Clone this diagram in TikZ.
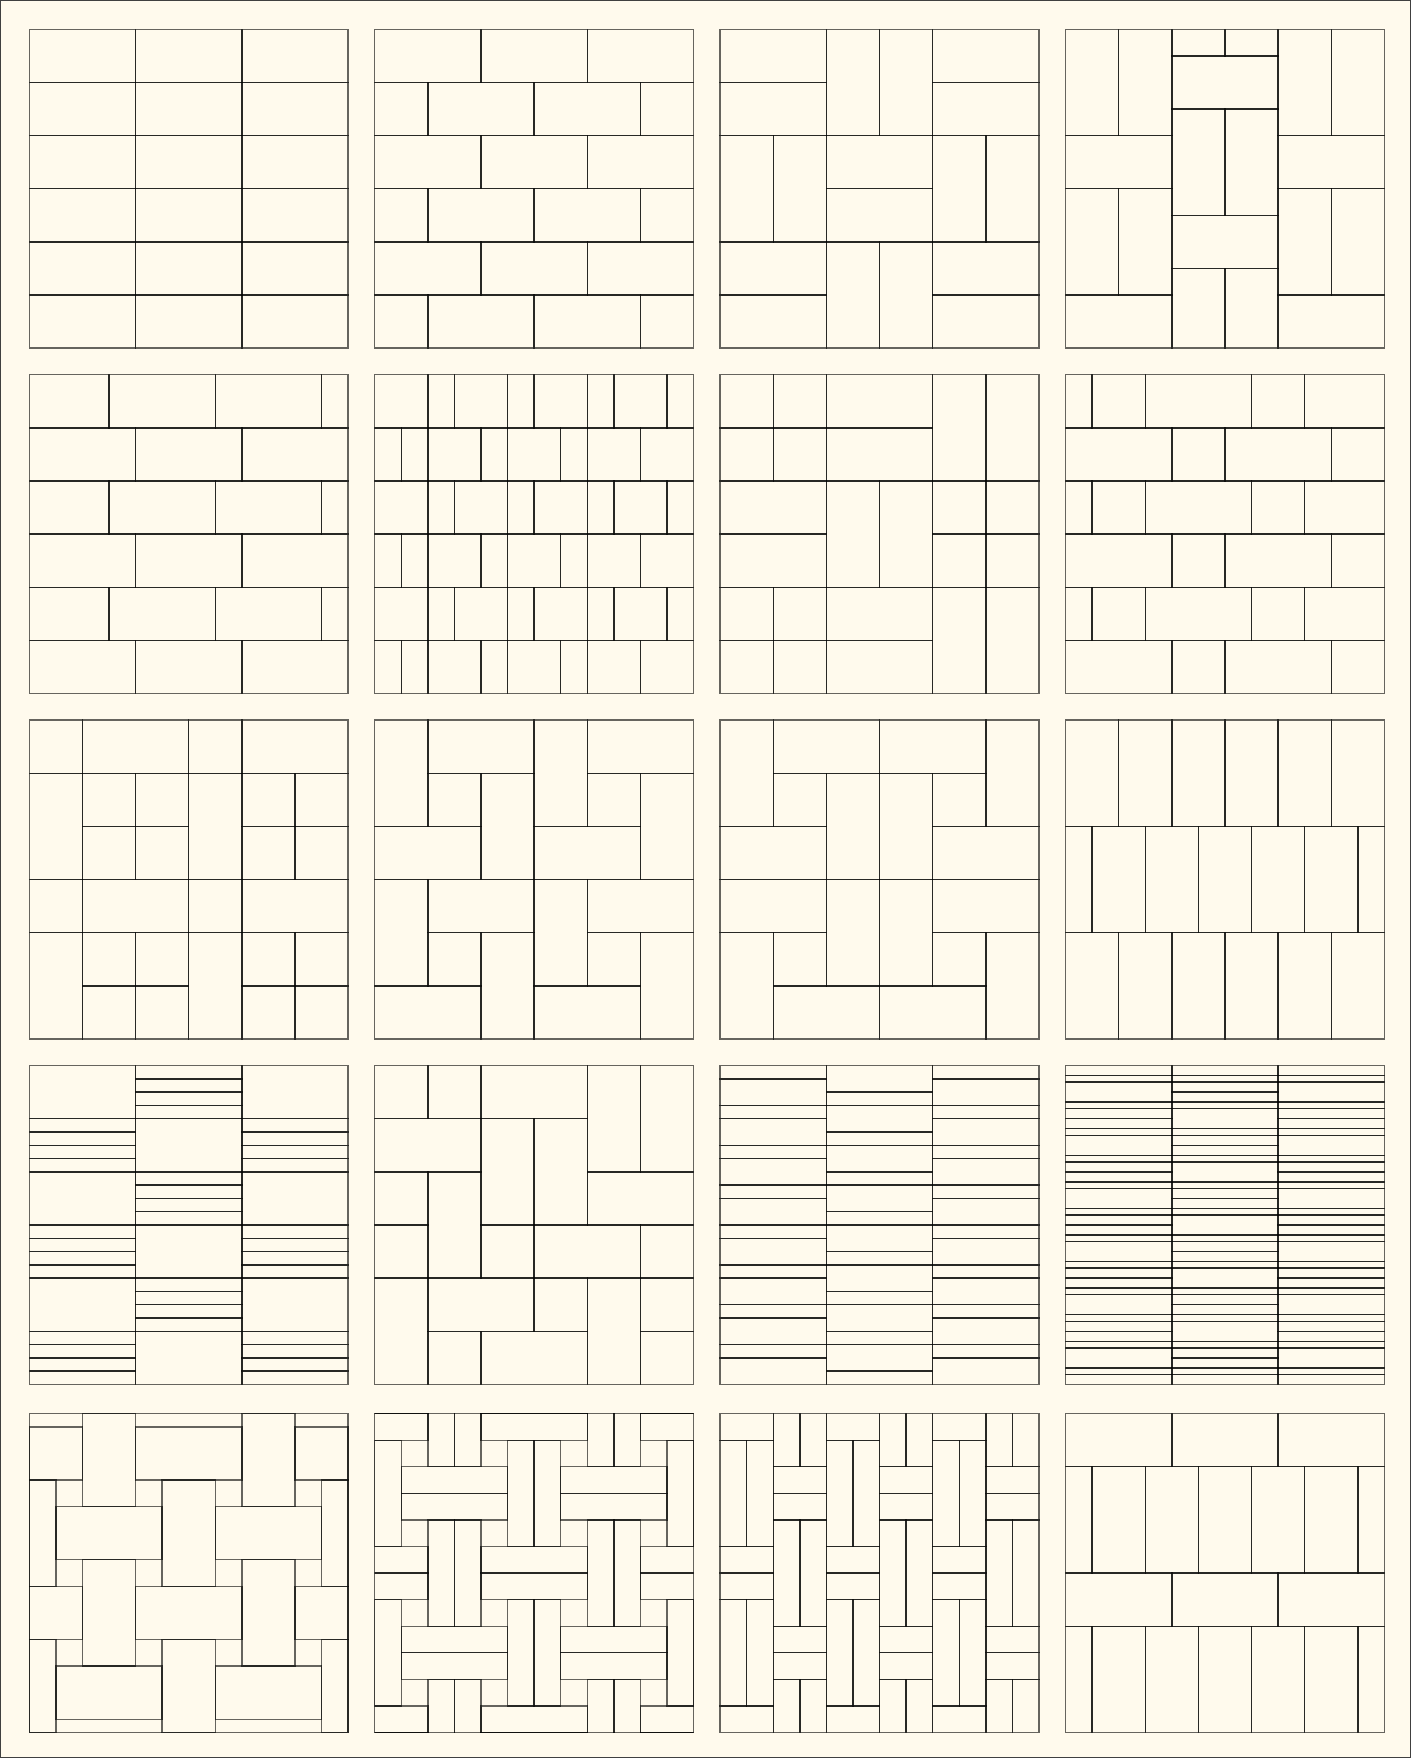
\documentclass[tikz,border=0pt]{standalone}
\usepackage{tikz}
\definecolor{paper}{RGB}{255,250,237}
\newcommand{\tbox}[4]{\draw[tile] (#1,#2) rectangle (#3,#4);}

\begin{document}
\begin{tikzpicture}[
  x=1cm, y=-1cm,
  tile/.style={draw=black, draw opacity=0.6, line width=0.75pt},
  frame/.style={draw=black!75, line width=1.2pt},
  panel/.style={shift={#1}}
]
\fill[paper] (0,0) rectangle (26.55,33.08);
\useasboundingbox (0,0) rectangle (26.55,33.08);
\draw[frame] (0,0) rectangle (26.55,33.08);

\begin{scope}[panel={(0.55,0.55)}]
\foreach \ya in {0,...,5} {\foreach \xa in {0,2,4} {\tbox{\xa}{\ya}{\xa+2}{\ya+1}}}
\end{scope}

\begin{scope}[panel={(7.05,0.55)}]
\foreach \ya in {0,2,4} {\foreach \xa in {0,2,4} {\tbox{\xa}{\ya}{\xa+2}{\ya+1}}}
\foreach \ya in {1,3,5} {\foreach \xa/\xb in {0/1,1/3,3/5,5/6} {\tbox{\xa}{\ya}{\xb}{\ya+1}}}
\end{scope}

\begin{scope}[panel={(13.55,0.55)}]
\foreach \bx in {0,2,4} {\foreach \by in {0,2,4} {
  \ifodd\numexpr(\bx+\by)/2\relax
    \tbox{\bx}{\by}{\bx+1}{\by+2} \tbox{\bx+1}{\by}{\bx+2}{\by+2}
  \else
    \tbox{\bx}{\by}{\bx+2}{\by+1} \tbox{\bx}{\by+1}{\bx+2}{\by+2}
  \fi}}
\end{scope}

\begin{scope}[panel={(20.05,0.55)}]
\foreach \cx in {0,4} {
  \tbox{\cx}{0}{\cx+1}{2} \tbox{\cx+1}{0}{\cx+2}{2}
  \tbox{\cx}{2}{\cx+2}{3}
  \tbox{\cx}{3}{\cx+1}{5} \tbox{\cx+1}{3}{\cx+2}{5}
  \tbox{\cx}{5}{\cx+2}{6}}
\tbox{2}{0}{3}{0.5} \tbox{3}{0}{4}{0.5}
\tbox{2}{0.5}{4}{1.5}
\tbox{2}{1.5}{3}{3.5} \tbox{3}{1.5}{4}{3.5}
\tbox{2}{3.5}{4}{4.5}
\tbox{2}{4.5}{3}{6} \tbox{3}{4.5}{4}{6}
\end{scope}

\begin{scope}[panel={(0.55,7.05)}]
\foreach \ya in {0,2,4} {\foreach \xa/\xb in {0/1.5,1.5/3.5,3.5/5.5,5.5/6} {\tbox{\xa}{\ya}{\xb}{\ya+1}}}
\foreach \ya in {1,3,5} {\foreach \xa/\xb in {0/2,2/4,4/6} {\tbox{\xa}{\ya}{\xb}{\ya+1}}}
\end{scope}

\begin{scope}[panel={(7.05,7.05)}]
\foreach \ya in {0,2,4} {\foreach \xa/\xb in {0/1,1/1.5,1.5/2.5,2.5/3,3/4,4/4.5,4.5/5.5,5.5/6} {\tbox{\xa}{\ya}{\xb}{\ya+1}}}
\foreach \ya in {1,3,5} {\foreach \xa/\xb in {0/0.5,0.5/1,1/2,2/2.5,2.5/3.5,3.5/4,4/5,5/6} {\tbox{\xa}{\ya}{\xb}{\ya+1}}}
\end{scope}

\begin{scope}[panel={(13.55,7.05)}]
\foreach \bx/\by in {0/0,4/2,0/4} {\foreach \i in {0,1} {\foreach \j in {0,1} {\tbox{\bx+\i}{\by+\j}{\bx+\i+1}{\by+\j+1}}}}
\foreach \bx/\by in {2/0,0/2,2/4} {\tbox{\bx}{\by}{\bx+2}{\by+1} \tbox{\bx}{\by+1}{\bx+2}{\by+2}}
\foreach \bx/\by in {4/0,2/2,4/4} {\tbox{\bx}{\by}{\bx+1}{\by+2} \tbox{\bx+1}{\by}{\bx+2}{\by+2}}
\end{scope}

\begin{scope}[panel={(20.05,7.05)}]
\foreach \ya in {0,2,4} {\foreach \xa/\xb in {0/0.5,0.5/1.5,1.5/3.5,3.5/4.5,4.5/6} {\tbox{\xa}{\ya}{\xb}{\ya+1}}}
\foreach \ya in {1,3,5} {\foreach \xa/\xb in {0/2,2/3,3/5,5/6} {\tbox{\xa}{\ya}{\xb}{\ya+1}}}
\end{scope}

\begin{scope}[panel={(0.55,13.55)}]
\foreach \ya in {0,3} {\foreach \xa/\xb in {0/1,1/3,3/4,4/6} {\tbox{\xa}{\ya}{\xb}{\ya+1}}}
\foreach \ya in {1,4} {
  \tbox{0}{\ya}{1}{\ya+2} \tbox{3}{\ya}{4}{\ya+2}
  \foreach \xa in {1,2,4,5} {\foreach \j in {0,1} {\tbox{\xa}{\ya+\j}{\xa+1}{\ya+\j+1}}}}
\end{scope}

\begin{scope}[panel={(7.05,13.55)}]
\foreach \tx in {0,3} {\foreach \ty in {0,3} {
  \tbox{\tx}{\ty}{\tx+1}{\ty+2}
  \tbox{\tx+1}{\ty}{\tx+3}{\ty+1}
  \tbox{\tx+1}{\ty+1}{\tx+2}{\ty+2}
  \tbox{\tx+2}{\ty+1}{\tx+3}{\ty+3}
  \tbox{\tx}{\ty+2}{\tx+2}{\ty+3}}}
\end{scope}

\begin{scope}[panel={(13.55,13.55)}]
\foreach \xa/\ya/\xb/\yb in {0/0/1/2, 1/0/3/1, 3/0/5/1, 5/0/6/2, 1/1/2/2, 2/1/3/3, 3/1/4/3, 4/1/5/2,
  0/2/2/3, 4/2/6/3, 0/3/2/4, 2/3/3/5, 3/3/4/5, 4/3/6/4, 0/4/1/6, 1/4/2/5, 4/4/5/5, 5/4/6/6,
  1/5/3/6, 3/5/5/6} {\tbox{\xa}{\ya}{\xb}{\yb}}
\end{scope}

\begin{scope}[panel={(20.05,13.55)}]
\foreach \ya in {0,4} {\foreach \xa in {0,...,5} {\tbox{\xa}{\ya}{\xa+1}{\ya+2}}}
\foreach \xa/\xb in {0/0.5,0.5/1.5,1.5/2.5,2.5/3.5,3.5/4.5,4.5/5.5,5.5/6} {\tbox{\xa}{2}{\xb}{4}}
\end{scope}

\begin{scope}[panel={(0.55,20.05)}]
\foreach \cx/\sa/\ea in {0/1/0,2/0/1,4/1/0} {
  \foreach \ya in {0,2,4} {
    \tbox{\cx}{\ya+\ea}{\cx+2}{\ya+\ea+1}
    \foreach \k in {0,0.25,0.5,0.75} {\tbox{\cx}{\ya+\sa+\k}{\cx+2}{\ya+\sa+\k+0.25}}}}
\end{scope}

\begin{scope}[panel={(7.05,20.05)}]
\foreach \xa/\ya in {0/0,1/0,0/2,0/3,2/3,5/3,3/4,5/4,1/5,5/5} {\tbox{\xa}{\ya}{\xa+1}{\ya+1}}
\foreach \xa/\ya in {2/0,0/1,4/2,3/3,1/4,2/5} {\tbox{\xa}{\ya}{\xa+2}{\ya+1}}
\foreach \xa/\ya in {4/0,5/0,2/1,3/1,1/2,0/4,4/4} {\tbox{\xa}{\ya}{\xa+1}{\ya+2}}
\end{scope}

\begin{scope}[panel={(13.55,20.05)}]
\foreach \cx in {0,4} {\foreach \k in {0,...,7} {
  \tbox{\cx}{0.75*\k}{\cx+2}{0.75*\k+0.25}
  \tbox{\cx}{0.75*\k+0.25}{\cx+2}{0.75*\k+0.75}}}
\tbox{2}{0}{4}{0.5}
\foreach \k in {0,...,7} {\tbox{2}{0.75*\k+0.5}{4}{0.75*\k+0.75}}
\foreach \k in {0,...,6} {\tbox{2}{0.75*\k+0.75}{4}{0.75*\k+1.25}}
\end{scope}

\begin{scope}[panel={(20.05,20.05)}]
\foreach \cx in {0,4} {\foreach \k in {0,...,5} {
  \foreach \ya/\yb in {0/0.1875,0.1875/0.3125,0.3125/0.6875,0.6875/0.8125,0.8125/1} {\tbox{\cx}{\k+\ya}{\cx+2}{\k+\yb}}}}
\tbox{2}{0}{4}{0.1875}
\foreach \k in {0,...,5} {\foreach \ya/\yb in {0.1875/0.3125,0.3125/0.5,0.5/0.6875,0.6875/0.8125} {\tbox{2}{\k+\ya}{4}{\k+\yb}}}
\foreach \k in {0,...,4} {\tbox{2}{\k+0.8125}{4}{\k+1.1875}}
\tbox{2}{5.8125}{4}{6}
\end{scope}

\begin{scope}[panel={(0.55,26.6)}]
\tbox{0}{0}{6}{6}
\foreach \xa/\ya/\xb/\yb in {1/0/2/1.75, 4/0/5/1.75, 0/1.25/0.5/3.25, 2.5/1.25/3.5/3.25, 5.5/1.25/6/3.25,
  1/2.75/2/4.75, 4/2.75/5/4.75, 0/4.25/0.5/6, 2.5/4.25/3.5/6, 5.5/4.25/6/6,
  0/0.25/1/1.25, 2/0.25/4/1.25, 5/0.25/6/1.25, 0.5/1.75/2.5/2.75, 3.5/1.75/5.5/2.75,
  0/3.25/1/4.25, 2/3.25/4/4.25, 5/3.25/6/4.25, 0.5/4.75/2.5/5.75, 3.5/4.75/5.5/5.75} {\tbox{\xa}{\ya}{\xb}{\yb}}
\end{scope}

\begin{scope}[panel={(7.05,26.6)}]
\begin{scope}[scale=0.5]
\clip (0,0) rectangle (12,12);
\foreach \xa/\ya in {2/-2,2/4,2/10,8/-2,8/4,8/10,5/1,5/7,-1/1,-1/7,11/1,11/7} {
  \tbox{\xa}{\ya}{\xa+1}{\ya+4} \tbox{\xa+1}{\ya}{\xa+2}{\ya+4}}
\foreach \xa/\ya in {1/2,1/8,7/2,7/8,-2/-1,-2/5,-2/11,4/-1,4/5,4/11,10/-1,10/5,10/11} {
  \tbox{\xa}{\ya}{\xa+4}{\ya+1} \tbox{\xa}{\ya+1}{\xa+4}{\ya+2}}
\end{scope}
\tbox{0}{0}{6}{6}
\end{scope}

\begin{scope}[panel={(13.55,26.6)}, scale=0.5]
\foreach \gx in {0,4,8} {
  \tbox{\gx}{0}{\gx+2}{1}
  \foreach \ya in {1,7} {\tbox{\gx}{\ya}{\gx+1}{\ya+4} \tbox{\gx+1}{\ya}{\gx+2}{\ya+4}}
  \foreach \ya in {5,6} {\tbox{\gx}{\ya}{\gx+2}{\ya+1}}
  \tbox{\gx}{11}{\gx+2}{12}}
\foreach \gx in {2,6,10} {
  \foreach \ya/\yb in {0/2,4/8,10/12} {\tbox{\gx}{\ya}{\gx+1}{\yb} \tbox{\gx+1}{\ya}{\gx+2}{\yb}}
  \foreach \ya in {2,3,8,9} {\tbox{\gx}{\ya}{\gx+2}{\ya+1}}}
\end{scope}

\begin{scope}[panel={(20.05,26.6)}]
\foreach \ya in {0,3} {\foreach \xa in {0,2,4} {\tbox{\xa}{\ya}{\xa+2}{\ya+1}}}
\foreach \ya/\yb in {1/3,4/6} {\foreach \xa/\xb in {0/0.5,0.5/1.5,1.5/2.5,2.5/3.5,3.5/4.5,4.5/5.5,5.5/6} {\tbox{\xa}{\ya}{\xb}{\yb}}}
\end{scope}
\end{tikzpicture}
\end{document}
